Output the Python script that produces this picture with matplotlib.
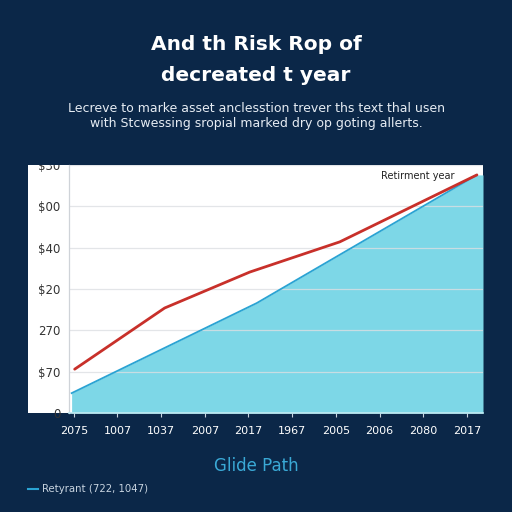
import matplotlib
matplotlib.use("Agg")
import matplotlib.pyplot as plt
from matplotlib.patches import Rectangle
from matplotlib.transforms import Bbox, TransformedBbox

# ---- data ----
x_tick_labels = ["2075", "1007", "1037", "2007", "2017", "1967", "2005", "2006", "2080", "2017"]
y_tick_labels = ["0", "$70", "270", "$20", "$40", "$00", "$30"]

red_x = [0.02, 2.08, 4.03, 6.09, 9.23]
red_y = [1.06, 2.54, 3.41, 4.14, 5.76]

blue_x = [-0.05, 4.19, 9.23]
blue_y = [0.48, 2.66, 5.76]

title = "And th Risk Rop of\ndecreated t year"
subtitle = ("Lecreve to marke asset anclesstion trever ths text thal usen\n"
            "with Stcwessing sropial marked dry op goting allerts.")
annotation = "Retirment year"
bottom_title = "Glide Path"
legend_label = "Retyrant (722, 1047)"

# ---- style ----
BG = "#0b2748"
RED = "#c8302a"
BLUE = "#2aa3d3"
FILL = "#7dd7e7"

W, H = 512, 512
fig = plt.figure(figsize=(5.12, 5.12), dpi=100, facecolor=BG)

def fx(px):
    return px / W

def fy(py):
    return 1 - py / H

# white panel behind axes + y labels
panel_left, panel_right, panel_top, panel_bottom = 28, 483, 165, 413
fig.patches.append(Rectangle((fx(panel_left), fy(panel_bottom)),
                             fx(panel_right) - fx(panel_left),
                             fy(panel_top) - fy(panel_bottom),
                             transform=fig.transFigure, facecolor="white",
                             edgecolor="none", zorder=-5))

ax_left, ax_right = 69, 483
ax = fig.add_axes([fx(ax_left), fy(panel_bottom), fx(ax_right) - fx(ax_left),
                   fy(panel_top) - fy(panel_bottom)])
ax.set_zorder(2)
ax.set_facecolor("white")

x_pos = list(range(len(x_tick_labels)))
ax.set_xlim(-0.11, 9.37)
ax.set_ylim(0, 6)

# fill continues flat to the right edge of the axes
xr = ax.get_xlim()[1]
ax.fill_between(blue_x + [xr], blue_y + [blue_y[-1]], 0, color=FILL,
                linewidth=0, zorder=1)
ax.plot(blue_x, blue_y, color=BLUE, linewidth=1.3, zorder=2)
ax.plot(red_x, red_y, color=RED, linewidth=2.0, zorder=3,
        solid_capstyle="round", solid_joinstyle="round")

ax.set_axisbelow("line")
ax.yaxis.grid(True, color="#dcdfe3", linewidth=0.9, alpha=0.8)
ax.xaxis.grid(False)

ax.set_xticks(x_pos)
ax.set_xticklabels(x_tick_labels)
ax.set_yticks(range(len(y_tick_labels)))
ax.set_yticklabels(y_tick_labels)

ax.tick_params(axis="x", colors="#c9d3de", labelcolor="white", labelsize=8,
               length=3, width=0.8, pad=6.5)
ax.tick_params(axis="y", labelcolor="#333333", labelsize=8.5, length=0, pad=6)

for s in ["top", "right"]:
    ax.spines[s].set_visible(False)
ax.spines["left"].set_color("#cfd3d8")
ax.spines["left"].set_linewidth(0.9)
ax.spines["bottom"].set_color("#bfeaf3")
ax.spines["bottom"].set_linewidth(1.2)

# clip y tick labels to the white panel (top label is cut)
clipbox = TransformedBbox(Bbox([[0, 0], [1, fy(panel_top)]]), fig.transFigure)
for lbl in ax.get_yticklabels():
    lbl.set_clip_box(clipbox)
    lbl.set_clip_on(True)

ax.text(8.72, 5.73, annotation, ha="right", va="center", fontsize=7,
        color="#222222", zorder=4)

# titles
fig.text(0.5, fy(60), title, ha="center", va="center", color="white",
         fontsize=14.5, fontweight="bold", linespacing=1.75)
fig.text(0.5, fy(116), subtitle, ha="center", va="center", color="#e6ecf3",
         fontsize=9, linespacing=1.3)

fig.text(0.5, fy(466), bottom_title, ha="center", va="center", color="#3aa9d6",
         fontsize=12)

# legend-like line
fig.add_artist(plt.Line2D([fx(28), fx(38)], [fy(489), fy(489)],
                          transform=fig.transFigure, color=BLUE, linewidth=1.5))
fig.text(fx(42), fy(489), legend_label, ha="left", va="center",
         color="#c8d4e0", fontsize=7.3)

fig.savefig("out.png", dpi=100, facecolor=BG)
